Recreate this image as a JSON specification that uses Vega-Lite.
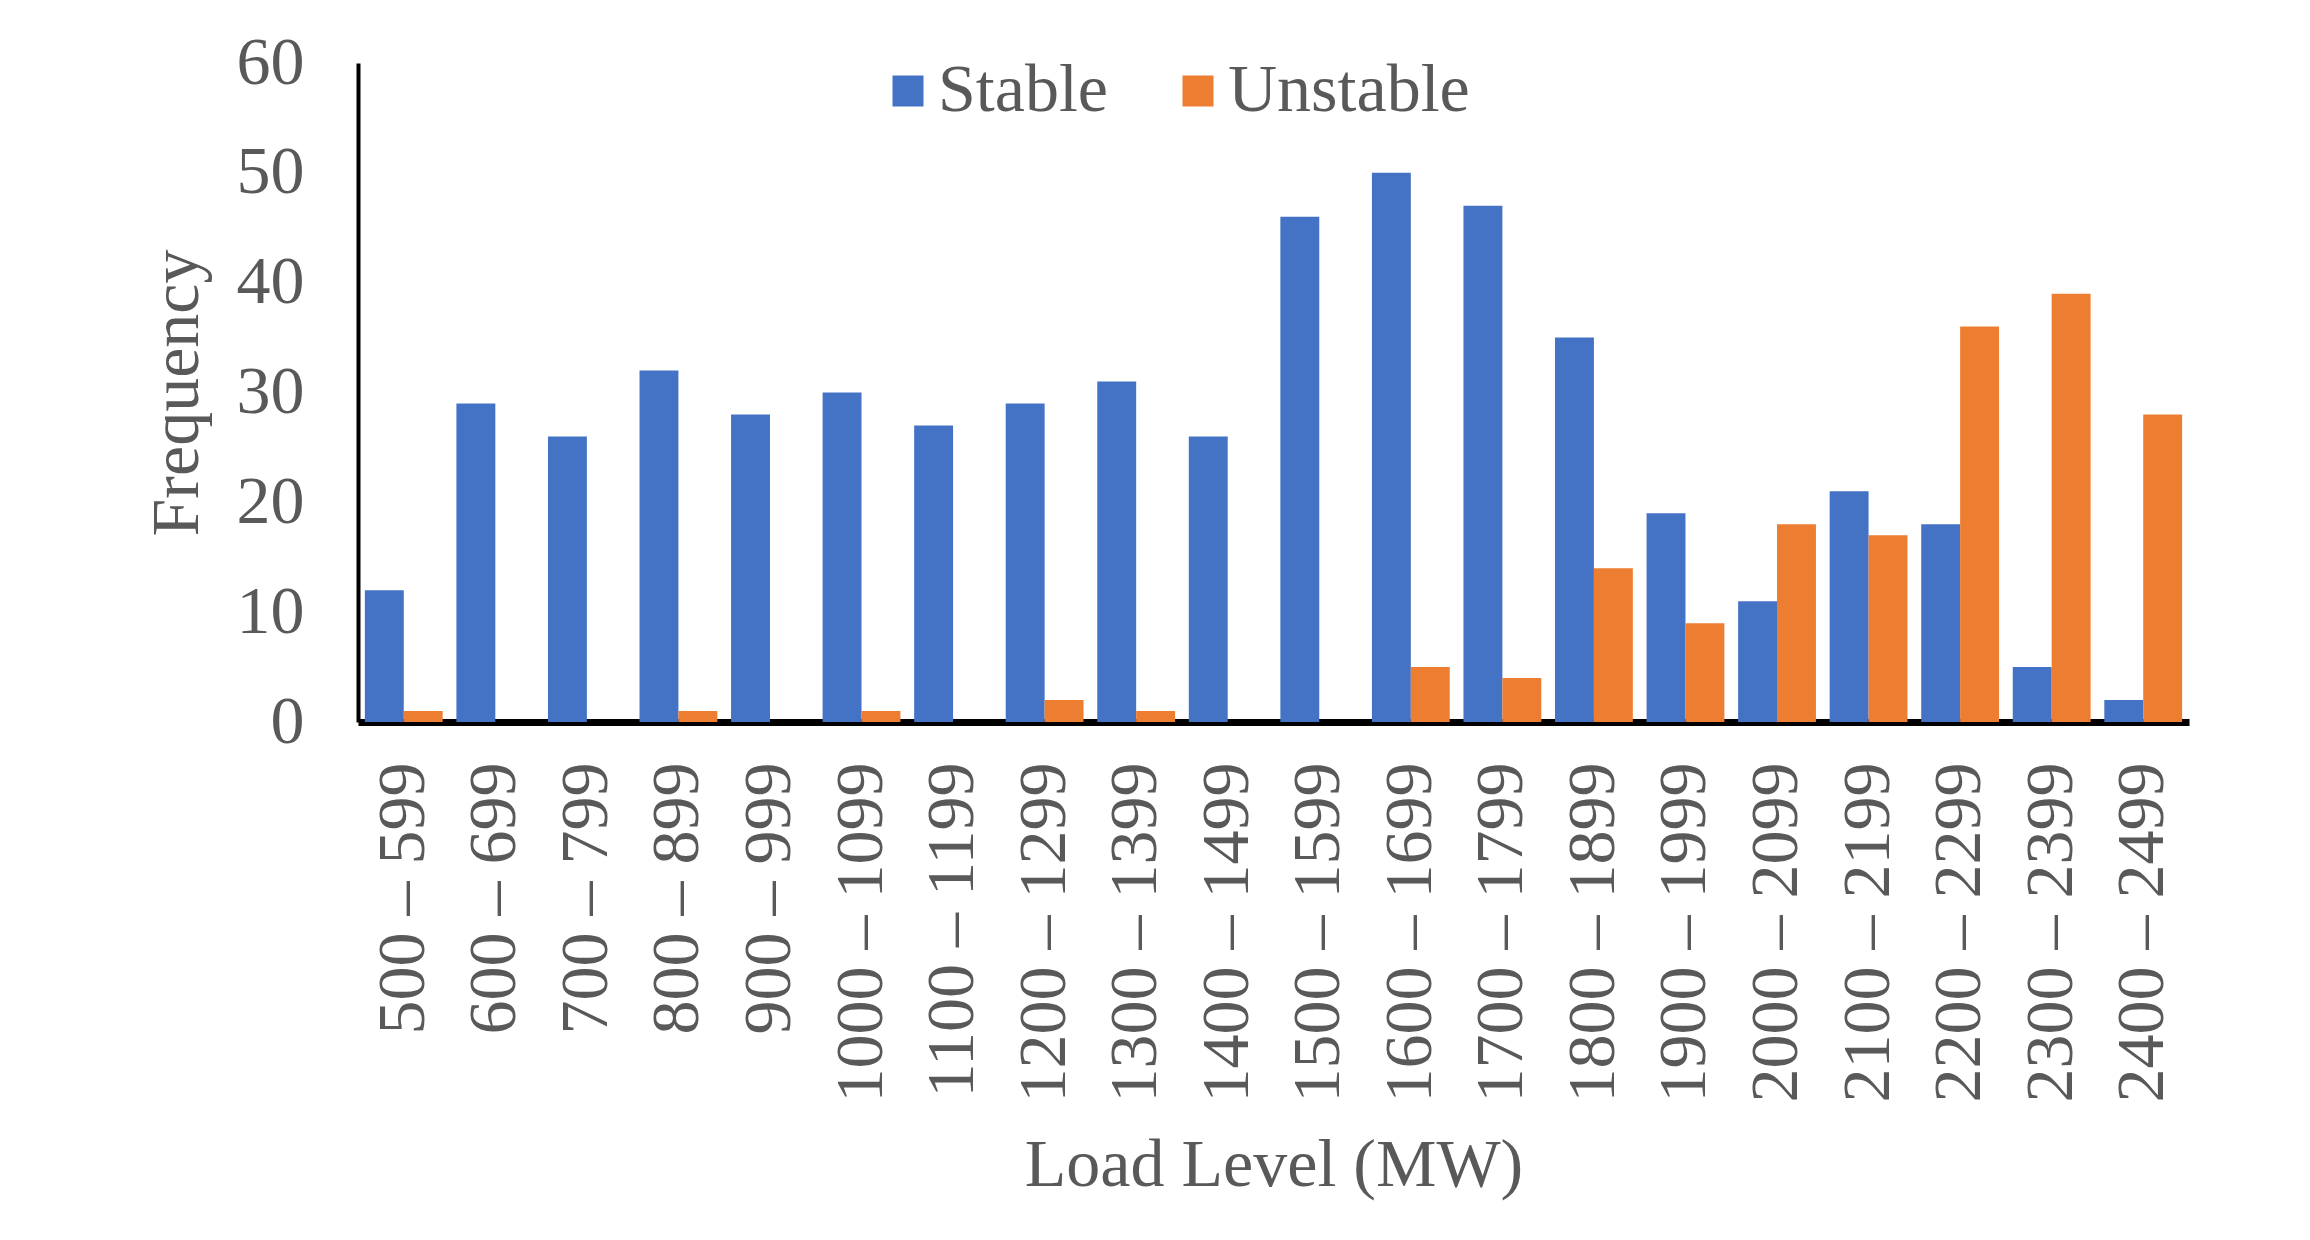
{
  "$schema": "https://vega.github.io/schema/vega-lite/v6.json",
  "width": 1831,
  "height": 659,
  "autosize": {"type": "none"},
  "padding": {"left": 358, "top": 63, "right": 121, "bottom": 518},
  "background": "white",
  "data": {
    "values": [
      {"load": "500 – 599", "status": "Stable", "frequency": 12},
      {"load": "500 – 599", "status": "Unstable", "frequency": 1},
      {"load": "600 – 699", "status": "Stable", "frequency": 29},
      {"load": "600 – 699", "status": "Unstable", "frequency": 0},
      {"load": "700 – 799", "status": "Stable", "frequency": 26},
      {"load": "700 – 799", "status": "Unstable", "frequency": 0},
      {"load": "800 – 899", "status": "Stable", "frequency": 32},
      {"load": "800 – 899", "status": "Unstable", "frequency": 1},
      {"load": "900 – 999", "status": "Stable", "frequency": 28},
      {"load": "900 – 999", "status": "Unstable", "frequency": 0},
      {"load": "1000 – 1099", "status": "Stable", "frequency": 30},
      {"load": "1000 – 1099", "status": "Unstable", "frequency": 1},
      {"load": "1100 – 1199", "status": "Stable", "frequency": 27},
      {"load": "1100 – 1199", "status": "Unstable", "frequency": 0},
      {"load": "1200 – 1299", "status": "Stable", "frequency": 29},
      {"load": "1200 – 1299", "status": "Unstable", "frequency": 2},
      {"load": "1300 – 1399", "status": "Stable", "frequency": 31},
      {"load": "1300 – 1399", "status": "Unstable", "frequency": 1},
      {"load": "1400 – 1499", "status": "Stable", "frequency": 26},
      {"load": "1400 – 1499", "status": "Unstable", "frequency": 0},
      {"load": "1500 – 1599", "status": "Stable", "frequency": 46},
      {"load": "1500 – 1599", "status": "Unstable", "frequency": 0},
      {"load": "1600 – 1699", "status": "Stable", "frequency": 50},
      {"load": "1600 – 1699", "status": "Unstable", "frequency": 5},
      {"load": "1700 – 1799", "status": "Stable", "frequency": 47},
      {"load": "1700 – 1799", "status": "Unstable", "frequency": 4},
      {"load": "1800 – 1899", "status": "Stable", "frequency": 35},
      {"load": "1800 – 1899", "status": "Unstable", "frequency": 14},
      {"load": "1900 – 1999", "status": "Stable", "frequency": 19},
      {"load": "1900 – 1999", "status": "Unstable", "frequency": 9},
      {"load": "2000 – 2099", "status": "Stable", "frequency": 11},
      {"load": "2000 – 2099", "status": "Unstable", "frequency": 18},
      {"load": "2100 – 2199", "status": "Stable", "frequency": 21},
      {"load": "2100 – 2199", "status": "Unstable", "frequency": 17},
      {"load": "2200 – 2299", "status": "Stable", "frequency": 18},
      {"load": "2200 – 2299", "status": "Unstable", "frequency": 36},
      {"load": "2300 – 2399", "status": "Stable", "frequency": 5},
      {"load": "2300 – 2399", "status": "Unstable", "frequency": 39},
      {"load": "2400 – 2499", "status": "Stable", "frequency": 2},
      {"load": "2400 – 2499", "status": "Unstable", "frequency": 28}
    ]
  },
  "mark": {"type": "bar"},
  "encoding": {
    "x": {
      "field": "load",
      "type": "nominal",
      "sort": null,
      "scale": {"paddingInner": 0.15, "paddingOuter": 0.075},
      "title": "Load Level (MW)",
      "axis": {
        "domainColor": "#000000",
        "domainWidth": 7,
        "ticks": false,
        "tickSize": 0,
        "grid": false,
        "labelAngle": 270,
        "labelAlign": "right",
        "labelBaseline": "middle",
        "labelFontSize": 68,
        "labelColor": "#595959",
        "labelPadding": 40,
        "labelLimit": 0,
        "labelOverlap": false,
        "titleFontSize": 68,
        "titleFontWeight": "normal",
        "titleColor": "#595959",
        "titleBaseline": "alphabetic",
        "titleY": 463
      }
    },
    "xOffset": {"field": "status", "sort": ["Stable", "Unstable"]},
    "y": {
      "field": "frequency",
      "type": "quantitative",
      "scale": {"domain": [0, 60], "nice": false},
      "title": "Frequency",
      "axis": {
        "values": [0, 10, 20, 30, 40, 50, 60],
        "domainColor": "#000000",
        "domainWidth": 4,
        "ticks": false,
        "tickSize": 0,
        "grid": false,
        "labelFontSize": 68,
        "labelColor": "#595959",
        "labelPadding": 54,
        "labelBaseline": "middle",
        "titleFontSize": 68,
        "titleFontWeight": "normal",
        "titleColor": "#595959",
        "titleAngle": 270,
        "titleAlign": "center",
        "titleBaseline": "alphabetic",
        "titleX": -161,
        "titleY": 329.5
      }
    },
    "color": {
      "field": "status",
      "type": "nominal",
      "scale": {"domain": ["Stable", "Unstable"], "range": ["#4472C4", "#ED7D31"]},
      "legend": {
        "title": null,
        "orient": "none",
        "legendX": 516,
        "legendY": -6,
        "direction": "horizontal",
        "symbolType": "square",
        "symbolSize": 961,
        "symbolStrokeWidth": 0,
        "labelFontSize": 68,
        "labelColor": "#595959",
        "labelOffset": -4,
        "labelLimit": 0,
        "columnPadding": 56,
        "padding": 0
      }
    }
  },
  "config": {
    "view": {"stroke": null},
    "font": "Liberation Serif"
  }
}
